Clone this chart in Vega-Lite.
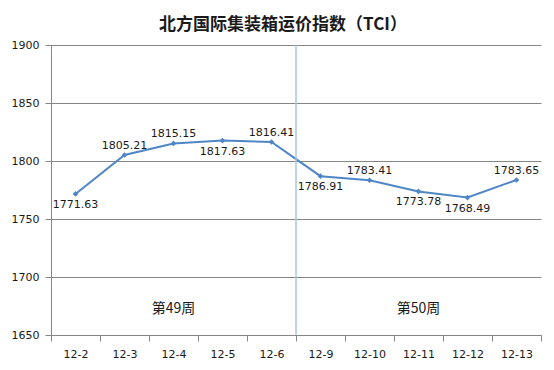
{
  "$schema": "https://vega.github.io/schema/vega-lite/v6.json",
  "autosize": {"type": "none"},
  "padding": {"left": 51, "top": 45, "right": 13, "bottom": 35},
  "width": 490,
  "height": 290,
  "background": "white",
  "title": {
    "text": "北方国际集装箱运价指数（TCI）",
    "font": "Noto Sans CJK SC",
    "fontSize": 17,
    "fontWeight": "bold",
    "color": "#1a1a1a",
    "anchor": "middle",
    "dx": -13,
    "offset": 5
  },
  "config": {
    "view": {"stroke": null},
    "axis": {
      "labelFont": "DejaVu Sans",
      "labelFontSize": 11,
      "labelColor": "#1a1a1a",
      "domainColor": "#868686",
      "tickColor": "#868686",
      "gridColor": "#868686"
    }
  },
  "datasets": {
    "tci": [
      {"date": "12-2", "value": 1771.63},
      {"date": "12-3", "value": 1805.21},
      {"date": "12-4", "value": 1815.15},
      {"date": "12-5", "value": 1817.63},
      {"date": "12-6", "value": 1816.41},
      {"date": "12-9", "value": 1786.91},
      {"date": "12-10", "value": 1783.41},
      {"date": "12-11", "value": 1773.78},
      {"date": "12-12", "value": 1768.49},
      {"date": "12-13", "value": 1783.65}
    ],
    "weeks": [
      {"date": "12-4", "value": 1672, "label": "第49周"},
      {"date": "12-11", "value": 1672, "label": "第50周"}
    ],
    "divider": [
      {"date": "12-9"}
    ]
  },
  "encoding": {
    "x": {
      "field": "date",
      "type": "ordinal",
      "sort": null,
      "scale": {"domain": ["12-2","12-3","12-4","12-5","12-6","12-9","12-10","12-11","12-12","12-13"], "paddingInner": 0, "paddingOuter": 0},
      "axis": {"title": null, "labelAngle": 0, "tickBand": "extent", "tickSize": 6, "labelPadding": 7, "grid": false}
    }
  },
  "layer": [
    {
      "data": {"name": "tci"},
      "mark": {"type": "line", "color": "#4f86c6", "strokeWidth": 2, "point": {"shape": "diamond", "size": 32, "filled": true, "color": "#4f86c6"}},
      "encoding": {
        "y": {
          "field": "value",
          "type": "quantitative",
          "scale": {"domain": [1650, 1900], "nice": false, "zero": false},
          "axis": {"title": null, "values": [1650, 1700, 1750, 1800, 1850, 1900], "format": "d", "grid": true, "tickSize": 6, "labelPadding": 6}
        }
      }
    },
    {
      "data": {"name": "divider"},
      "mark": {"type": "rule", "color": "#a6c8e0", "strokeWidth": 1.5},
      "encoding": {
        "x": {"field": "date", "type": "ordinal", "bandPosition": 0}
      }
    },
    {
      "data": {"name": "tci"},
      "transform": [{"filter": {"field": "date", "oneOf": ["12-3", "12-4", "12-6", "12-10", "12-13"]}}],
      "mark": {"type": "text", "font": "DejaVu Sans", "fontSize": 11, "color": "#1a1a1a", "baseline": "bottom", "dy": -4},
      "encoding": {
        "y": {"field": "value", "type": "quantitative"},
        "text": {"field": "value", "type": "quantitative", "format": ".2f"}
      }
    },
    {
      "data": {"name": "tci"},
      "transform": [{"filter": {"field": "date", "oneOf": ["12-2", "12-5", "12-9", "12-11", "12-12"]}}],
      "mark": {"type": "text", "font": "DejaVu Sans", "fontSize": 11, "color": "#1a1a1a", "baseline": "top", "dy": 5},
      "encoding": {
        "y": {"field": "value", "type": "quantitative"},
        "text": {"field": "value", "type": "quantitative", "format": ".2f"}
      }
    },
    {
      "data": {"name": "weeks"},
      "mark": {"type": "text", "font": "Noto Sans CJK SC", "fontSize": 14, "color": "#1a1a1a"},
      "encoding": {
        "y": {"field": "value", "type": "quantitative"},
        "text": {"field": "label"}
      }
    }
  ]
}
